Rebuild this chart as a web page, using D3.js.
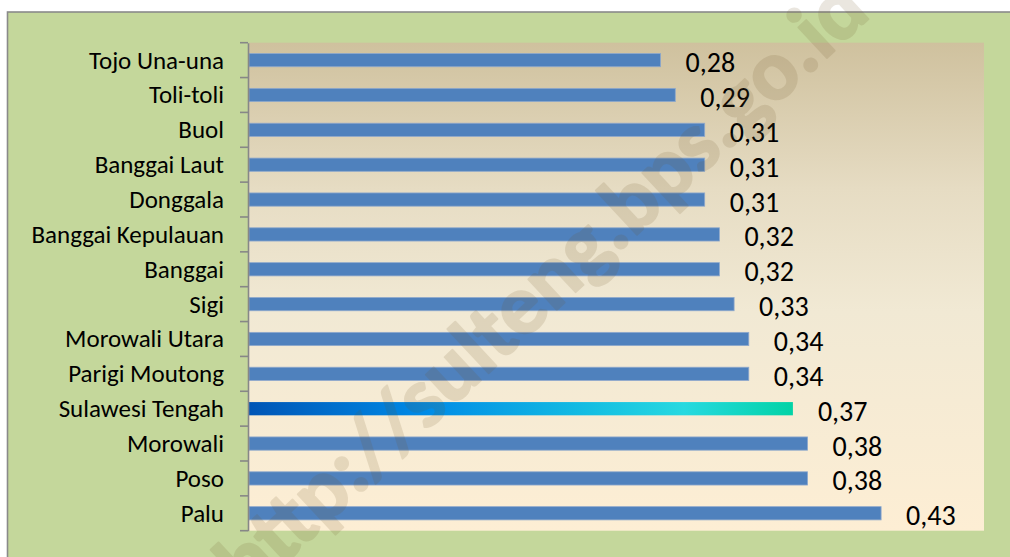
<!DOCTYPE html>
<html>
<head>
<meta charset="utf-8">
<script src="https://cdn.jsdelivr.net/npm/d3@7"></script>
<style>
  html, body { margin: 0; padding: 0; background: #ffffff; }
  svg { display: block; }
  text { font-family: Carlito, Calibri, Lato, "Open Sans", sans-serif; }
</style>
</head>
<body>
<svg id="chart" width="1010" height="557"></svg>
<script>
// Regency / city names, top to bottom
const regions = [
  "Tojo Una-una", "Toli-toli", "Buol", "Banggai Laut", "Donggala",
  "Banggai Kepulauan", "Banggai", "Sigi", "Morowali Utara", "Parigi Moutong",
  "Sulawesi Tengah", "Morowali", "Poso", "Palu"
];
// Index values per region
const values = [0.28, 0.29, 0.31, 0.31, 0.31, 0.32, 0.32, 0.33, 0.34, 0.34, 0.37, 0.38, 0.38, 0.43];
// The province total, drawn with its own gradient fill
const highlight = "Sulawesi Tengah";
const watermark = "http://sulteng.bps.go.id";

const data = regions.map((r, i) => ({ region: r, value: values[i] }));

const svg = d3.select("#chart");
const W = 1010, H = 557;
const plot = { left: 249, right: 984, top: 42.7, bottom: 530.7 };

const defs = svg.append("defs");

// plot area: warm tan fading into cream
const bg = defs.append("linearGradient").attr("id", "plotBg")
  .attr("x1", 0).attr("y1", 0).attr("x2", 0).attr("y2", 1);
[[0, "#cfc19e"], [0.3, "#e6dcc3"], [0.55, "#f1e9d4"], [1, "#fdeed4"]]
  .forEach(([o, c]) => bg.append("stop").attr("offset", o).attr("stop-color", c));

// highlighted bar: deep blue through cyan to teal
const hl = defs.append("linearGradient").attr("id", "hlBar")
  .attr("x1", 0).attr("y1", 0).attr("x2", 1).attr("y2", 0);
[[0, "#0055b5"], [0.32, "#008ae6"], [0.62, "#14bde2"], [0.8, "#27d9e0"], [1, "#02d3a6"]]
  .forEach(([o, c]) => hl.append("stop").attr("offset", o).attr("stop-color", c));

// chart frame
svg.append("rect").attr("x", 0).attr("y", 0).attr("width", W).attr("height", H).attr("fill", "#ffffff");
svg.append("rect")
  .attr("x", 7.5).attr("y", 12).attr("width", W + 20).attr("height", H + 20)
  .attr("fill", "#c4d79b").attr("stroke", "#8a8a8a").attr("stroke-width", 1.6);

// plot area
svg.append("rect")
  .attr("x", plot.left).attr("y", plot.top)
  .attr("width", plot.right - plot.left).attr("height", plot.bottom - plot.top)
  .attr("fill", "url(#plotBg)");

const x = d3.scaleLinear().domain([0, 0.5]).range([plot.left, plot.right]);
const y = d3.scaleBand().domain(regions)
  .range([plot.top, plot.bottom])
  .paddingInner(0.62).paddingOuter(0.31);

const step = y.step();
const bandCenter = d => y(d) + y.bandwidth() / 2;

// bars
svg.append("g").selectAll("rect")
  .data(data).join("rect")
  .attr("x", x(0))
  .attr("y", d => y(d.region))
  .attr("width", d => x(d.value) - x(0))
  .attr("height", y.bandwidth())
  .attr("fill", d => d.region === highlight ? "url(#hlBar)" : "#4f81bd")
  .attr("stroke", d => d.region === highlight ? "none" : "#8fa9cc")
  .attr("stroke-width", 0.8);

// value labels (decimal comma)
const fmt = v => d3.format(".2f")(v).replace(".", ",");
svg.append("g").selectAll("text")
  .data(data).join("text")
  .attr("x", d => x(d.value) + 25)
  .attr("y", d => bandCenter(d.region) + 12)
  .attr("font-size", 28)
  .attr("fill", "#000")
  .text(d => fmt(d.value));

// category axis
const axis = d3.axisLeft(y).tickSize(0).tickPadding(24);
const ag = svg.append("g").attr("transform", `translate(${plot.left - 1},0)`).call(axis);
ag.select(".domain").attr("stroke", "#878787").attr("stroke-width", 1.6);
ag.selectAll(".tick text")
  .attr("font-size", 25)
  .attr("fill", "#000")
  .attr("dy", "0.34em");

// tick marks sit on category boundaries
const boundaries = regions.map(r => y(r) - step * y.paddingInner() / 2).concat([plot.bottom]);
ag.selectAll("line.boundary")
  .data(boundaries).join("line")
  .attr("class", "boundary")
  .attr("x1", -8).attr("x2", 0)
  .attr("y1", d => d).attr("y2", d => d)
  .attr("stroke", "#878787").attr("stroke-width", 1.6);

// site watermark across the chart (opacity on the element so fill and stroke blend as one)
svg.append("text")
  .attr("transform", "translate(540,285) rotate(-43)")
  .attr("text-anchor", "middle")
  .attr("dominant-baseline", "central")
  .attr("font-family", "'Liberation Sans', Arial, sans-serif")
  .attr("font-weight", "bold")
  .attr("font-size", 86)
  .attr("fill", "#6e5528")
  .attr("stroke", "#6e5528")
  .attr("stroke-width", 2)
  .attr("stroke-linejoin", "round")
  .attr("opacity", 0.14)
  .text(watermark);
</script>
</body>
</html>
